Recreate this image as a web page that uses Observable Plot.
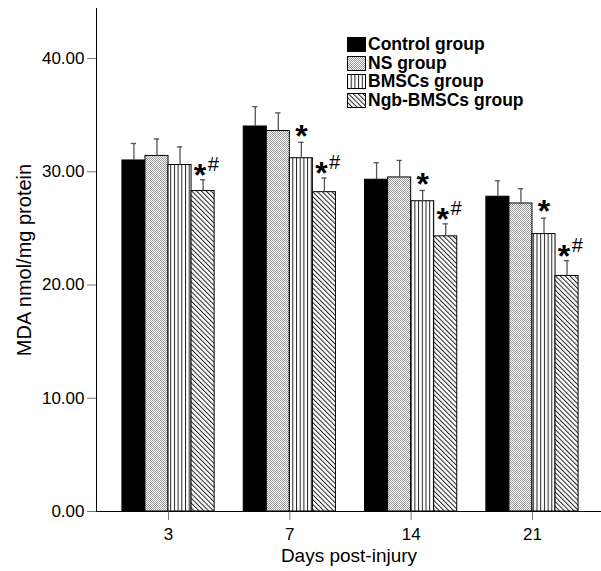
<!DOCTYPE html>
<html><head><meta charset="utf-8">
<script src="https://cdn.jsdelivr.net/npm/d3@7"></script>
<script src="https://cdn.jsdelivr.net/npm/@observablehq/plot@0.6"></script>
<style>
body{margin:0;background:#fff;}
#wrap{position:relative;width:601px;height:571px;font-family:"Liberation Sans",Arial,sans-serif;}
#legend{position:absolute;left:347px;top:35px;}
.item{display:flex;align-items:center;height:18.7px;font-size:17.5px;font-weight:bold;color:#000;white-space:nowrap;}
.item svg{margin-right:2px;display:block}
</style></head><body><div id="wrap"><div id="legend"></div></div>
<script>
const days = ["3", "7", "14", "21"];
const groups = ["Control group", "NS group", "BMSCs group", "Ngb-BMSCs group"];
const controlMean = [31.0, 34.0, 29.3, 27.8];
const controlSD   = [1.5, 1.75, 1.5, 1.4];
const nsMean      = [31.4, 33.6, 29.5, 27.2];
const nsSD        = [1.5, 1.6, 1.5, 1.3];
const bmscsMean   = [30.6, 31.2, 27.4, 24.5];
const bmscsSD     = [1.6, 1.4, 0.95, 1.4];
const ngbMean     = [28.3, 28.2, 24.3, 20.8];
const ngbSD       = [1.0, 1.25, 1.1, 1.35];
const controlNote = ["", "", "", ""];
const nsNote      = ["", "", "", ""];
const bmscsNote   = ["", "*", "*", "*"];
const ngbNote     = ["*#", "*#", "*#", "*#"];
const yTicks = [0, 10, 20, 30, 40];
const xTitle = "Days post-injury";
const yTitle = "MDA nmol/mg protein";

const means = [controlMean, nsMean, bmscsMean, ngbMean];
const sds = [controlSD, nsSD, bmscsSD, ngbSD];
const notes = [controlNote, nsNote, bmscsNote, ngbNote];
const fillOf = {"Control group": "black", "NS group": "url(#pNS)", "BMSCs group": "url(#pB)", "Ngb-BMSCs group": "url(#pN)"};

const rows = [];
days.forEach((d, i) => groups.forEach((g, j) => rows.push({day: d, i, g, j, value: means[j][i], sd: sds[j][i], note: notes[j][i]})));

const BW = 0.19;
const cx = r => r.i + (r.j - 1.5) * BW;
const errTop = r => r.value + r.sd;

const svg = Plot.plot({
  width: 601, height: 571,
  marginLeft: 96, marginRight: 0, marginTop: 8, marginBottom: 60,
  style: {fontFamily: "'Liberation Sans', Arial, sans-serif", fontSize: "17px", color: "black", background: "white"},
  color: {type: "identity"},
  x: {domain: [-0.5936, 3.569], ticks: [0, 1, 2, 3], tickFormat: i => days[i], tickSize: 9, tickPadding: 7, line: true,
      label: xTitle, labelAnchor: "center", labelOffset: 50},
  y: {domain: [0, 44.42], ticks: yTicks, tickFormat: d3.format(".2f"), tickSize: 9, tickPadding: 3, line: true,
      label: yTitle, labelAnchor: "center", labelOffset: 80},
  marks: [
    Plot.rectY(rows, {x1: r => cx(r) - BW / 2, x2: r => cx(r) + BW / 2, y1: 0, y2: "value", fill: r => fillOf[r.g], stroke: "black", strokeWidth: 1}),
    Plot.ruleX(rows, {x: cx, y1: "value", y2: errTop, stroke: "#555", strokeWidth: 1.3}),
    Plot.ruleY(rows, {y: errTop, x1: r => cx(r) - 0.022, x2: r => cx(r) + 0.022, stroke: "#555", strokeWidth: 1.3}),
    Plot.text(rows.filter(r => r.note === "*"), {x: cx, y: errTop, text: () => "*", fontSize: 32, fontWeight: "bold", dy: -6}),
    Plot.text(rows.filter(r => r.note === "*#"), {x: cx, y: errTop, text: () => "*", fontSize: 32, fontWeight: "bold", dy: -4, dx: -3}),
    Plot.text(rows.filter(r => r.note === "*#"), {x: cx, y: errTop, text: () => "#", fontSize: 20, fontStyle: "italic", dy: -15, dx: 10})
  ]
});

const defs = d3.select(svg).insert("defs", ":first-child");
const pNS = defs.append("pattern").attr("id", "pNS").attr("patternUnits", "userSpaceOnUse").attr("width", 2).attr("height", 2);
pNS.append("rect").attr("width", 2).attr("height", 2).attr("fill", "white");
pNS.append("rect").attr("width", 1).attr("height", 1).attr("fill", "#999");
pNS.append("rect").attr("x", 1).attr("y", 1).attr("width", 1).attr("height", 1).attr("fill", "#999");
const pB = defs.append("pattern").attr("id", "pB").attr("patternUnits", "userSpaceOnUse").attr("width", 3.7).attr("height", 10);
pB.append("rect").attr("width", 3.7).attr("height", 10).attr("fill", "white");
pB.append("rect").attr("width", 1).attr("height", 10).attr("fill", "#222");
const pN = defs.append("pattern").attr("id", "pN").attr("patternUnits", "userSpaceOnUse").attr("width", 3.4).attr("height", 10).attr("patternTransform", "rotate(-45)");
pN.append("rect").attr("width", 3.4).attr("height", 10).attr("fill", "white");
pN.append("rect").attr("width", 1).attr("height", 10).attr("fill", "#222");

d3.select(svg).selectAll("line, path").filter(function(){ return this.closest("g[aria-label*='axis']"); }).attr("stroke", "#777");
d3.select(svg).selectAll("text").each(function() {
  const t = this.textContent;
  if (t.includes(yTitle)) { this.textContent = yTitle; this.setAttribute("font-size", "20px"); this.style.fontSize = "20px"; }
  else if (t.includes(xTitle)) { this.textContent = xTitle; this.setAttribute("font-size", "19px"); this.style.fontSize = "19px"; }
});

document.getElementById("wrap").prepend(svg);

const legend = d3.select("#legend");
groups.forEach(g => {
  const it = legend.append("div").attr("class", "item");
  const s = it.append("svg").attr("width", 19).attr("height", 15);
  s.append("rect").attr("x", 0.5).attr("y", 0.5).attr("width", 18).attr("height", 14).attr("fill", fillOf[g]).attr("stroke", "black");
  it.append("span").text(g);
});
</script></body></html>
